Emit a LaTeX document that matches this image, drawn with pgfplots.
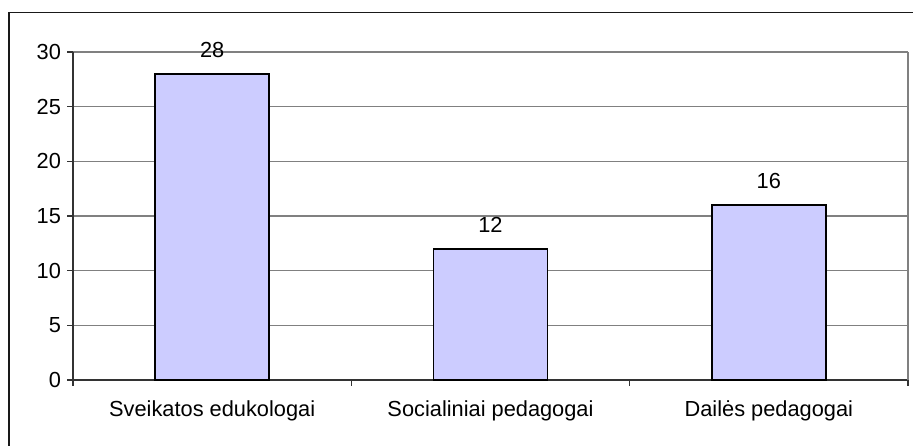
\documentclass[border=0pt]{standalone}
\usepackage{pgfplots}
\pgfplotsset{compat=1.18}
\usepackage{fontspec}
\setmainfont{Liberation Sans}
\definecolor{barfill}{HTML}{CCCCFF}
\definecolor{gridgray}{HTML}{808080}
\definecolor{axisdark}{HTML}{333333}
\newcommand\lf{\fontsize{21.8}{26}\selectfont}
\begin{document}
\begin{tikzpicture}[x=1pt,y=1pt]
\useasboundingbox (0,0) rectangle (913,445);
\begin{scope}
\clip (0,0) rectangle (913,445);
\draw[line width=1.5pt, black!90] (9,-20) -- (9,432.5) -- (940,432.5);
\end{scope}
\begin{axis}[
  at={(73pt,65pt)}, anchor=south west,
  scale only axis, width=835pt, height=328pt,
  /pgf/number format/assume math mode=true,
  xmin=-0.5, xmax=2.5, ymin=0, ymax=30,
  ytick={0,5,10,15,20,25,30},
  ymajorgrids, grid style={gridgray, line width=1.2pt},
  axis lines*=left,
  axis line style={-, line width=1.2pt, axisdark},
  tick align=outside,
  major tick length=5.5pt,
  tick style={axisdark, line width=1.2pt},
  xtick={-0.5,0.5,1.5,2.5}, xticklabels={},
  extra x ticks={0,1,2},
  extra x tick labels={Sveikatos edukologai, Socialiniai pedagogai, Dailės pedagogai},
  extra x tick style={major tick length=0pt, xticklabel style={yshift=-17pt}},
  tick label style={font=\lf, text=black},
  yticklabel style={xshift=-3pt},
  clip=false,
]
\addplot[ybar, bar width=114pt, fill=barfill, draw=black, line width=1.5pt,
  nodes near coords,
  nodes near coords style={font=\lf, text=black, anchor=south, yshift=12pt}]
  coordinates {(0,28) (1,12) (2,16)};
\draw[gridgray, line width=1.2pt] (rel axis cs:1,0) -- (rel axis cs:1,1);
\end{axis}
\end{tikzpicture}
\end{document}
